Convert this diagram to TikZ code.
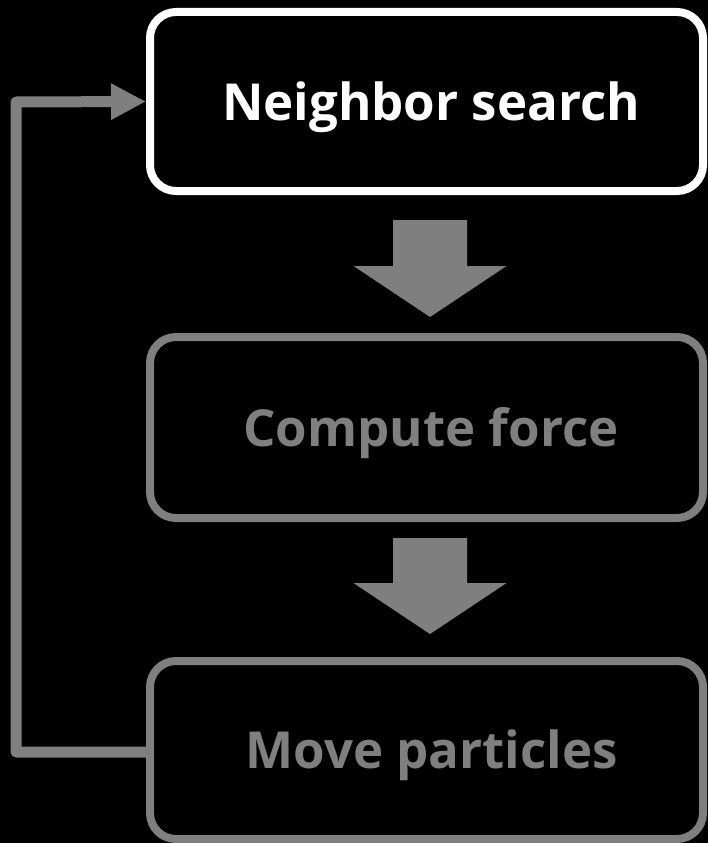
\documentclass[tikz,border=0pt]{standalone}
\usepackage{fontspec}
\setmainfont{Open Sans}
\usetikzlibrary{arrows.meta,calc}
\definecolor{mygray}{HTML}{7F7F7F}
\begin{document}
\begin{tikzpicture}[x=1pt,y=-1pt,
  box/.style={draw,line width=8pt,rounded corners=26pt,minimum width=553pt,
    font=\fontsize{51}{60}\selectfont\bfseries,text height=37pt,text depth=0pt,inner sep=0pt},
  activebox/.style={box,draw=white,text=white},
  idlebox/.style={box,draw=mygray,text=mygray},
  loopline/.style={draw=mygray,line width=11pt,line join=round,-{Triangle[length=35pt,width=34pt]}},
  blockarrow/.style={fill=mygray}]
\fill[black] (0,0) rectangle (708,843);
\useasboundingbox (0,0) rectangle (708,843);
\node[activebox,minimum height=179pt] (b1) at (426.5,101.5) {\hspace*{9pt}Neighbor search};
\node[idlebox,minimum height=181pt] (b2) at (426.5,427.5) {\hspace*{9pt}Compute force};
\node[idlebox,minimum height=178pt] (b3) at (426.5,750) {\hspace*{10pt}Move particles};
% block arrows
\coordinate (t1) at (430,220);
\coordinate (t2) at (430,538);
\foreach \t/\h/\e in {t1/46/97, t2/45/96}{
  \fill[blockarrow] ($(\t)+(-37,0)$) -- ($(\t)+(37,0)$) -- ($(\t)+(37,\h)$) -- ($(\t)+(76.5,\h)$)
    -- ($(\t)+(0,\e)$) -- ($(\t)+(-76.5,\h)$) -- ($(\t)+(-37,\h)$) -- cycle;
}
% loop back
\coordinate (lc) at (16,102);
\draw[loopline] ($(b3.west)+(0,2)$) -| (lc) -- (b1.west);
\end{tikzpicture}
\end{document}
